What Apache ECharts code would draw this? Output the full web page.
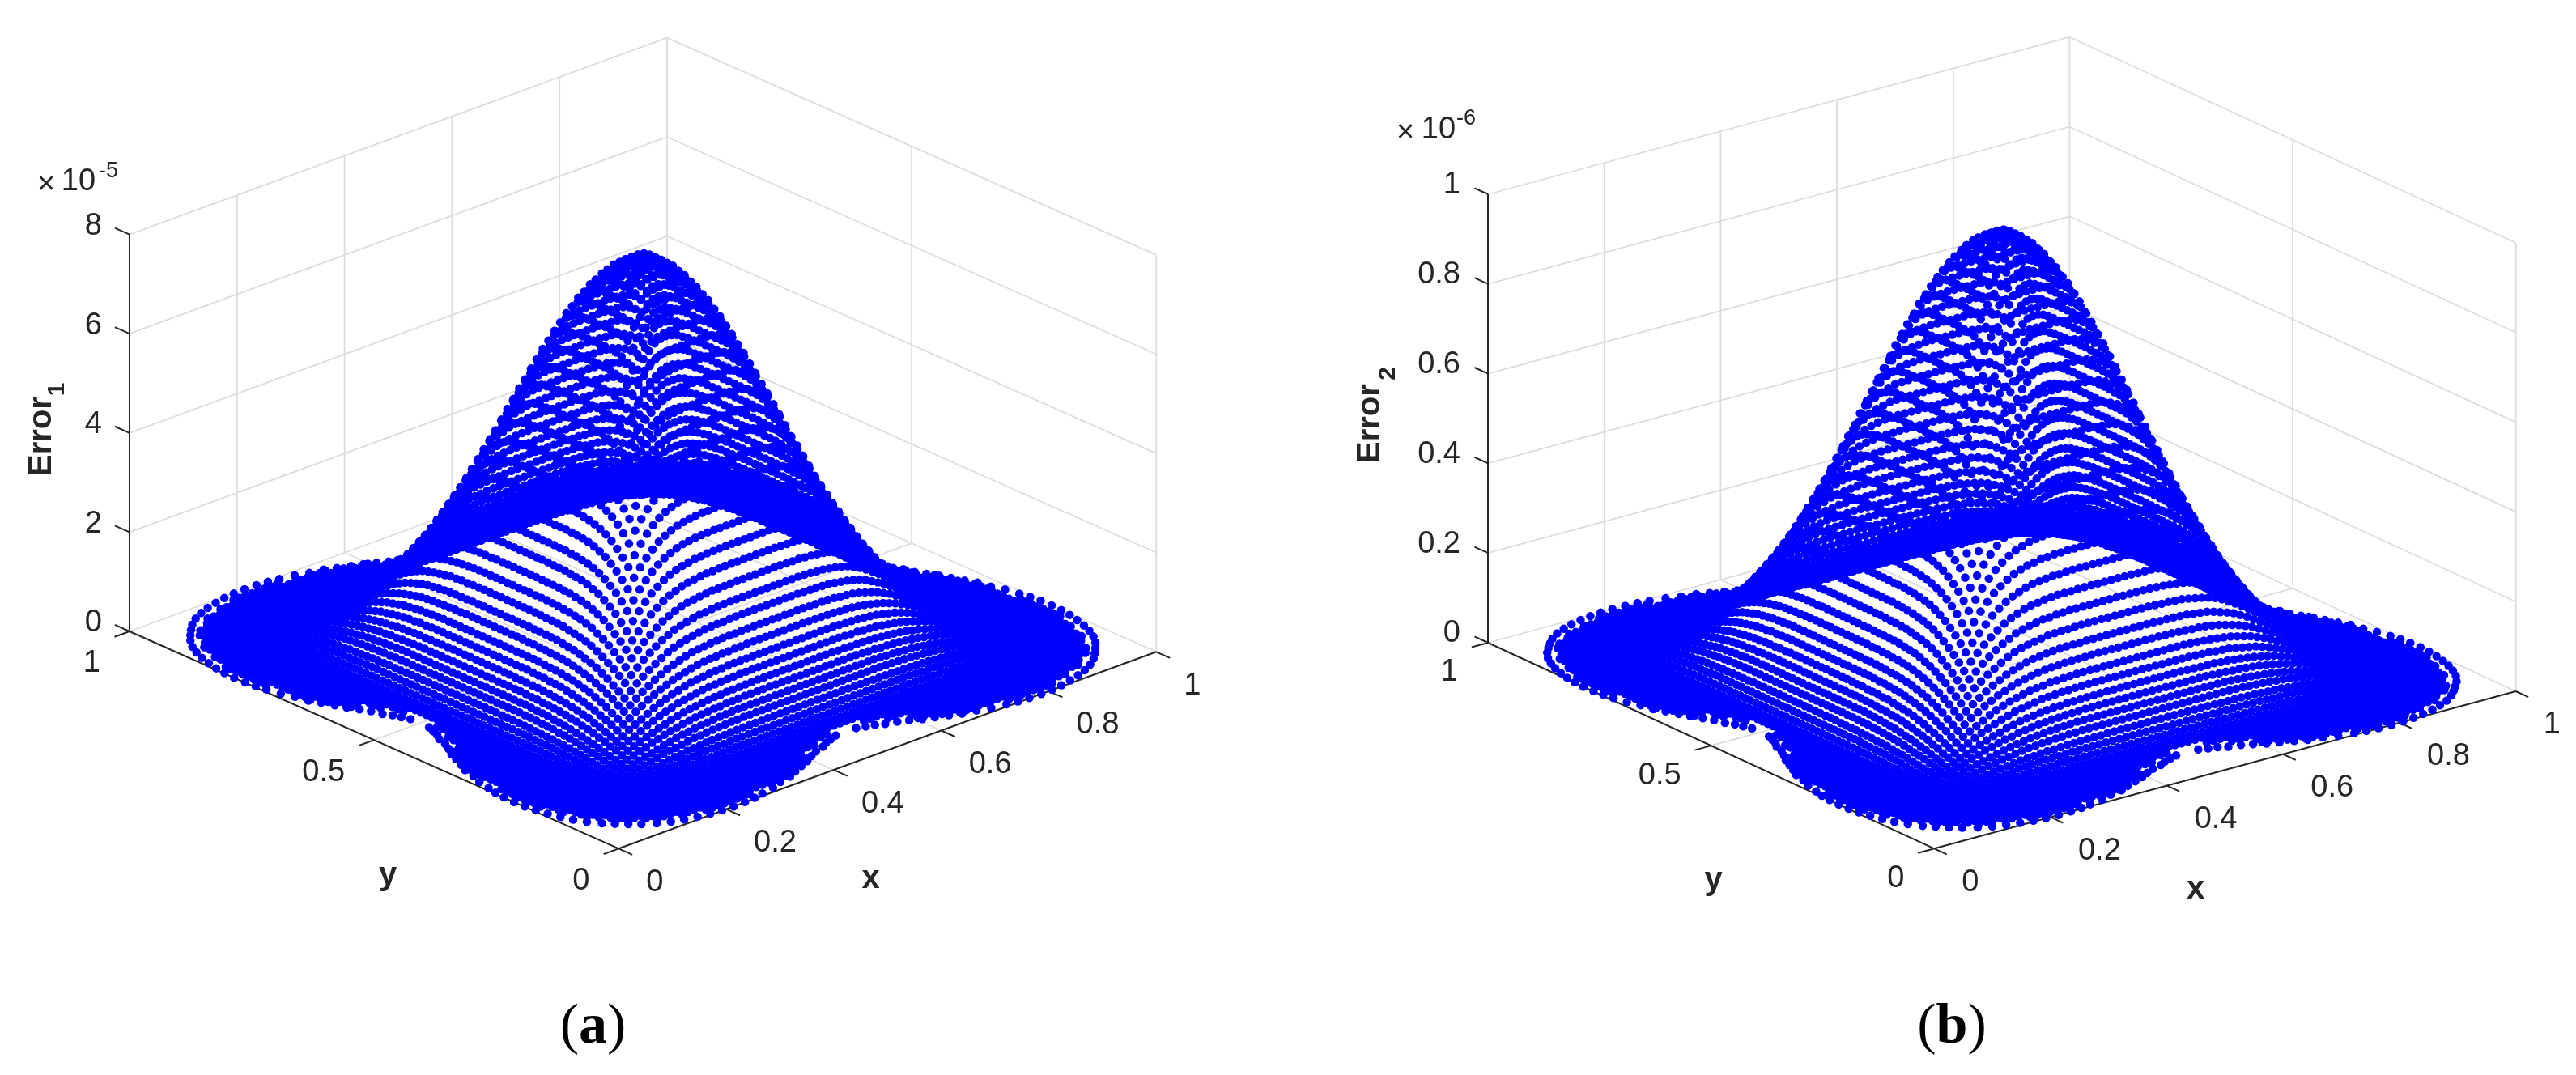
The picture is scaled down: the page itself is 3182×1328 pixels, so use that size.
<!DOCTYPE html>
<html>
<head>
<meta charset="utf-8">
<style>html,body{margin:0;padding:0;background:#fff}#main{width:3182px;height:1328px}</style>
<script src="https://cdn.jsdelivr.net/npm/echarts@6/dist/echarts.min.js"></script>
</head>
<body>
<div id="main"></div>
<script>
// ticks
var xTicks = [0, 0.2, 0.4, 0.6, 0.8, 1];
var yTicks = [0, 0.5, 1];
var zTicksA = [0, 2, 4, 6, 8];
var zTicksB = [0, 0.2, 0.4, 0.6, 0.8, 1];

// peak height of each surface, in units of the axis multiplier
var peakA = 7.75;
var peakB = 0.97;

// distance of the grid lines from the centre of the square
var offsets = [0,.0115,.023,.0345,.046,.0575,.069,.0805,.092,.1035,.115,.1265,.138,.1495,.161,.1725,.184,.1955,.207,.2185,.23,.2415,.253,.2645,.276,.2875,.299,.3105,.322,.3335,.345,.3565,.368,.3795,.391,.4025,.414,.4255,.437,.4485,.46,.4715,.483];

// first entry of each row below (outer rows stop short of the middle of the edge)
var rowFrom = [0,0,0,0,0,0,0,0,0,0,0,0,0,0,0,0,0,0,0,0,0,0,0,0,0,0,0,0,0,0,0,0,0,0,0,0,3,6,9,9,12,14,21];

// surface height, per mille of the peak.
// the surface mirrors in x, y and x=y so only one eighth is kept:
// row = larger distance from the centre, column = smaller one
var heightRows = [
[1000],
[997,996],
[988,988,985],
[974,974,973,966],
[954,954,953,949,939],
[928,928,928,926,920,906],
[900,900,899,898,894,885,868],
[866,866,866,865,862,856,844,826],
[828,828,828,827,825,821,812,798,778],
[788,788,788,787,786,782,776,765,750,728],
[744,744,744,744,743,741,736,728,716,698,674],
[700,700,700,699,698,696,694,687,678,664,646,620],
[654,654,654,654,653,652,650,644,637,626,612,592,568],
[607,607,607,607,606,605,604,600,594,586,574,558,536,514],
[560,560,560,560,560,559,558,554,550,544,534,522,506,486,462],
[514,514,514,514,514,513,512,510,506,501,494,484,471,454,434,410],
[469,469,469,469,468,468,467,465,462,458,452,444,434,420,404,385,364],
[424,424,424,424,424,424,423,422,420,417,412,406,398,387,374,358,340,318],
[383,383,383,383,383,382,382,380,379,376,373,368,362,353,342,330,314,296,276],
[344,344,344,344,344,343,342,342,340,338,336,332,326,320,311,300,288,272,256,238],
[305,305,305,305,305,304,304,304,302,301,298,296,292,286,279,271,260,248,235,220,204],
[270,270,270,270,270,270,270,269,268,266,265,262,259,255,250,242,234,224,213,201,187,173],
[238,238,238,238,238,238,237,236,236,235,234,231,228,225,221,216,209,200,191,181,170,158,144],
[207,207,207,207,207,207,206,206,206,205,204,202,200,198,194,189,184,178,170,162,152,142,131,119],
[180,180,180,180,180,180,179,179,178,178,176,176,174,172,169,165,161,156,150,144,136,128,118,109,98],
[154,154,154,154,154,154,154,154,154,153,152,151,150,148,146,144,140,136,132,126,120,113,104,96,88,80],
[132,132,132,132,132,132,132,132,132,131,130,130,128,127,126,123,120,117,114,109,104,98,92,86,78,70,64],
[112,112,112,112,112,112,112,111,111,110,110,110,108,108,106,104,102,100,97,93,90,84,80,74,68,62,56,50],
[94,94,94,94,94,94,94,94,94,94,93,92,92,90,90,88,87,85,82,80,76,73,69,64,60,54,50,44,39],
[78,78,78,78,78,78,78,78,78,78,78,78,77,76,75,74,72,71,69,66,64,61,57,54,50,46,42,38,34,29],
[64,64,64,64,64,64,64,64,64,64,64,64,63,63,62,61,60,59,57,56,54,51,48,46,43,40,36,32,29,26,21],
[50,50,50,50,50,50,50,50,50,49,49,49,49,48,48,47,46,46,45,43,42,41,39,37,35,32,30,27,24,21,19,15],
[38,38,38,38,38,38,38,38,38,38,38,38,38,38,38,37,36,36,36,35,34,33,32,30,28,26,24,22,20,17,15,13,10],
[28,28,28,28,28,28,28,28,28,28,28,28,28,28,28,28,28,27,27,26,26,25,24,23,22,21,19,18,16,14,12,10,8,7],
[20,20,20,20,20,20,20,20,20,20,20,20,20,20,20,20,20,19,19,19,19,18,18,17,16,15,14,13,12,11,9,8,6,5,3],
[15,15,15,15,15,15,15,15,15,15,15,15,15,15,15,15,15,15,15,15,14,14,14,13,12,12,11,10,9,8,7,6,5,3,2,1],
[10,10,10,10,10,10,10,10,10,10,10,10,10,10,10,10,10,9,9,9,8,8,8,7,6,6,5,4,3,2,1,0,0,0],
[7,7,7,7,7,7,7,7,7,7,7,7,7,7,7,7,6,6,6,5,5,4,4,3,3,2,2,1,1,0,0,0],
[4,4,4,4,4,4,4,4,4,4,4,4,4,4,4,3,3,3,3,2,2,2,1,1,1,1,0,0,0],
[2,2,2,2,2,2,2,2,2,2,1,1,1,1,1,1,1,0,0,0,0,0,0,0,0,0,0],
[1,1,1,1,1,1,1,1,1,1,1,1,0,0,0,0,0,0,0,0,0,0,0],
[0,0,0,0,0,0,0,0,0,0,0,0,0,0,0,0,0,0],
[0,0,0,0,0,0,0,0]
];

// single chain of dots round the rim (z = 0), one eighth of it
var rimX = [.0531,.041,.0289,.0199,.0131,.0076,.0035,.001,0,.0008,.0026,.0063,.0111,.0187,.0234,.0316,.0397,.0465,.0557,.0632,.0684,.0759,.0802,.085];
var rimY = [.0662,.0794,.0968,.1151,.1336,.1535,.1733,.1931,.2139,.2355,.2551,.273,.297,.3176,.34,.357,.376,.393,.409,.4243,.442,.4545,.4675,.481];

var panelA = {front: [764.3, 1048.3], ex: [664, -243], ey: [-604.3, -268.3], zPx: 61.3, zTicks: zTicksA, peak: peakA, xOff: [34, 42], yOff: [-36, 40], zOff: [-34, -10]};
var panelB = {front: [2389.3, 1048.3], ex: [718.4, -194.3], ey: [-551.3, -254.3], zPx: 554, zTicks: zTicksB, peak: peakB, xOff: [34, 42], yOff: [-37, 37], zOff: [-34, -11]};

var INK = '#262626';
var GRID = '#dcdcdc';
var SANS = '"Liberation Sans"';

function project(p, x, y, z) {
    return [p.front[0] + x * p.ex[0] + y * p.ey[0], p.front[1] + x * p.ex[1] + y * p.ey[1] - z * p.zPx];
}

function segment(out, a, b) {
    out.push(a, b, ['-', '-']);
}

function gridLines(p) {
    var out = [];
    var zTop = p.zTicks[p.zTicks.length - 1];
    xTicks.forEach(function(t) {
        segment(out, project(p, t, 0, 0), project(p, t, 1, 0));
        segment(out, project(p, t, 1, 0), project(p, t, 1, zTop));
    });
    yTicks.forEach(function(t) {
        segment(out, project(p, 0, t, 0), project(p, 1, t, 0));
        segment(out, project(p, 1, t, 0), project(p, 1, t, zTop));
    });
    p.zTicks.forEach(function(t) {
        segment(out, project(p, 0, 1, t), project(p, 1, 1, t));
        segment(out, project(p, 1, 1, t), project(p, 1, 0, t));
    });
    return out;
}

function axisLines(p) {
    var out = [];
    var zTop = p.zTicks[p.zTicks.length - 1];
    segment(out, project(p, 0, 0, 0), project(p, 1, 0, 0));
    segment(out, project(p, 0, 0, 0), project(p, 0, 1, 0));
    segment(out, project(p, 0, 1, 0), project(p, 0, 1, zTop));
    xTicks.forEach(function(t) {
        segment(out, project(p, t, 0, 0), project(p, t, -0.028, 0));
    });
    yTicks.forEach(function(t) {
        segment(out, project(p, 0, t, 0), project(p, -0.028, t, 0));
    });
    p.zTicks.forEach(function(t) {
        segment(out, project(p, 0, 1, t), project(p, 0, 1.03, t));
    });
    return out;
}

function dots(p) {
    var out = [];
    var n = offsets.length - 1;
    for (var i = -n; i <= n; i++) {
        for (var j = -n; j <= n; j++) {
            var big = Math.max(Math.abs(i), Math.abs(j));
            var small = Math.min(Math.abs(i), Math.abs(j));
            var h = heightRows[big][small - rowFrom[big]];
            if (h === undefined) continue;
            var x = 0.5 + (i < 0 ? -offsets[-i] : offsets[i]);
            var y = 0.5 + (j < 0 ? -offsets[-j] : offsets[j]);
            out.push(project(p, x, y, p.peak * h / 1000));
        }
    }
    rimX.forEach(function(a, k) {
        var b = rimY[k];
        [[a, b], [b, a], [1 - a, b], [1 - b, a], [a, 1 - b], [b, 1 - a], [1 - a, 1 - b], [1 - b, 1 - a]].forEach(function(q) {
            out.push(project(p, q[0], q[1], 0));
        });
    });
    return out;
}

function lineSeries(data, color, width, z) {
    return {type: 'line', data: data, symbol: 'none', silent: true, z: z, animation: false,
        lineStyle: {color: color, width: width}, itemStyle: {color: color}};
}

function textSeries(items) {
    return {
        type: 'custom', coordinateSystem: 'cartesian2d', silent: true, z: 5, clip: false, animation: false,
        data: items.map(function(t) { return t.at; }),
        renderItem: function(params, api) {
            var t = items[params.dataIndex];
            var pt = api.coord([api.value(0), api.value(1)]);
            return {
                type: 'text', x: pt[0], y: pt[1],
                rotation: t.rotation || 0,
                style: {
                    text: t.text, font: t.font || ('38px ' + SANS), fill: INK,
                    align: t.align || 'center', verticalAlign: 'middle', rich: t.rich
                }
            };
        }
    };
}

function tickText(p) {
    var out = [];
    function add(v, base, off, align) {
        out.push({text: String(v), at: [base[0] + off[0], base[1] + off[1]], align: align});
    }
    xTicks.forEach(function(t) { add(t, project(p, t, 0, 0), p.xOff, 'left'); });
    yTicks.forEach(function(t) { add(t, project(p, 0, t, 0), p.yOff, 'right'); });
    p.zTicks.forEach(function(t) { add(t, project(p, 0, 1, t), p.zOff, 'right'); });
    return out;
}

function bold(text, at, size) {
    return {text: text, at: at, font: 'bold ' + size + 'px ' + SANS};
}

function vertical(text, at, size) {
    return {text: text, at: at, font: 'bold ' + size + 'px ' + SANS, rotation: Math.PI / 2};
}

function caption(letter, at) {
    var serif = '"Liberation Serif"';
    return {
        text: '{n|(}{b|' + letter + '}{n|)}', at: at, font: '70px ' + serif,
        rich: {
            n: {fontFamily: serif, fontSize: 70, fill: '#000', color: '#000'},
            b: {fontFamily: serif, fontSize: 70, fontWeight: 'bold', fill: '#000', color: '#000'}
        }
    };
}

var labelsA = [
    {text: '×', at: [57, 229]},
    {text: '10', at: [97, 225]},
    {text: '-5', at: [134, 212], font: '27px ' + SANS},
    bold('y', [479, 1082], 40),
    bold('x', [1075.6, 1085.5], 40),
    vertical('Error', [52, 539], 40),
    vertical('1', [71, 481], 30),
    caption('a', [732.6, 1270])
];

var labelsB = [
    {text: '×', at: [1736, 165]},
    {text: '10', at: [1777, 161]},
    {text: '-6', at: [1811, 147], font: '27px ' + SANS},
    bold('y', [2116.6, 1088], 40),
    bold('x', [2712, 1099], 40),
    vertical('Error', [1692.5, 523], 40),
    vertical('2', [1715, 461.5], 30),
    caption('b', [2411, 1270])
];

var chart = echarts.init(document.getElementById('main'), null, {renderer: 'canvas'});
var series = [];
[panelA, panelB].forEach(function(p) {
    series.push(lineSeries(gridLines(p), GRID, 1.8, 1));
    series.push(lineSeries(axisLines(p), INK, 2, 2));
    series.push({type: 'scatter', data: dots(p), symbol: 'circle', symbolSize: 10.5, silent: true, z: 3,
        animation: false, progressive: 0, itemStyle: {color: '#0000ff', opacity: 1}});
    series.push(textSeries(tickText(p)));
});
series.push(textSeries(labelsA));
series.push(textSeries(labelsB));

chart.setOption({
    animation: false,
    backgroundColor: '#ffffff',
    grid: {left: 0, right: 0, top: 0, bottom: 0},
    xAxis: {type: 'value', min: 0, max: 3182, show: false},
    yAxis: {type: 'value', min: 0, max: 1328, inverse: true, show: false},
    series: series
});
</script>
</body>
</html>
